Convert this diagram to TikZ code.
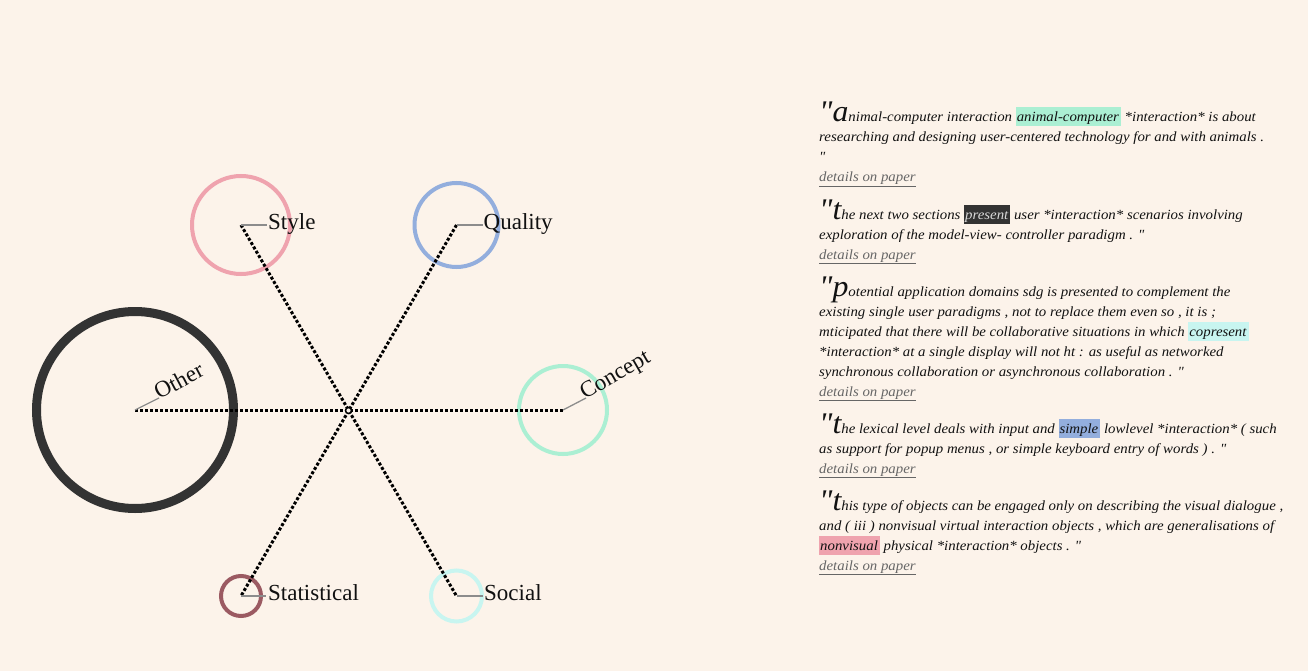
\documentclass[tikz,border=0pt]{standalone}
\usepackage{fontspec}
\setmainfont{Liberation Serif}
\newfontfamily\panelfont[FakeStretch=1.06]{Liberation Serif}
\definecolor{bg}{RGB}{252,243,234}
\definecolor{cother}{RGB}{51,51,51}
\definecolor{cstyle}{RGB}{239,163,174}
\definecolor{cquality}{RGB}{147,174,221}
\definecolor{cconcept}{RGB}{171,239,211}
\definecolor{cstat}{RGB}{155,90,98}
\definecolor{csocial}{RGB}{200,245,240}
\definecolor{leadgray}{RGB}{140,140,140}
\definecolor{linkgray}{RGB}{102,102,102}
\definecolor{ink}{RGB}{17,17,17}
\newcommand\hlbox[2]{{\setlength{\fboxsep}{0pt}\colorbox{#1}{\rule[-4.5pt]{0pt}{19pt}\kern1pt#2\kern2pt}}}
\newcommand\bigini[1]{{\fontsize{30}{20}\selectfont"#1}}
\newcommand\dlink{\textcolor{linkgray}{\underline{details on paper}}}
\begin{document}
\begin{tikzpicture}[x=1pt,y=-1pt,
  ring/.style={circle, draw, inner sep=0pt, fill=none},
  spoke/.style={line width=3pt, dash pattern=on 3pt off 2pt, black},
  leader/.style={draw=leadgray, line width=1.3pt},
  lbl/.style={font=\fontsize{23}{23}\selectfont, anchor=base west, inner sep=0pt, text=ink},
  qline/.style={anchor=base west, inner sep=0pt, text=ink, font=\panelfont\itshape\fontsize{14}{20}\selectfont}]
\fill[bg] (0,0) rectangle (1308,671);
\useasboundingbox (0,0) rectangle (1308,671);
% rings
\node[ring, draw=cother, line width=9pt, minimum size=197pt] (other) at (135,410) {};
\node[ring, draw=cstyle, line width=4pt, minimum size=98pt] (style) at (241,225) {};
\node[ring, draw=cquality, line width=4pt, minimum size=84pt] (quality) at (456.5,225) {};
\node[ring, draw=cconcept, line width=4pt, minimum size=88pt] (concept) at (563,410) {};
\node[ring, draw=cstat, line width=4pt, minimum size=40pt] (statistical) at (241,596) {};
\node[ring, draw=csocial, line width=4pt, minimum size=51pt] (social) at (456.5,596) {};
% spokes
\draw[spoke] (other.center) -- (concept.center);
\draw[spoke] (style.center) -- (social.center);
\draw[spoke] (quality.center) -- (statistical.center);
\node[circle, draw=black, line width=1.5pt, fill=bg, minimum size=6pt, inner sep=0pt] (hub) at (348.5,410.5) {};
% leaders
\coordinate (otherE) at (159,398);
\coordinate (styleE) at (267,225);
\coordinate (qualityE) at (483,225);
\coordinate (conceptE) at (586,398);
\coordinate (statE) at (266,596);
\coordinate (socialE) at (483,596);
\draw[leader] (other.center) -- (otherE);
\draw[leader] (style.center) -- (styleE);
\draw[leader] (quality.center) -- (qualityE);
\draw[leader] (concept.center) -- (conceptE);
\draw[leader] (statistical.center) -- (statE);
\draw[leader] (social.center) -- (socialE);
% labels
\node[lbl, rotate=28] (otherL) at (159,400) {Other};
\node[lbl] (styleL) at (268,229.5) {Style};
\node[lbl] (qualityL) at (483.5,229.5) {Quality};
\node[lbl, rotate=30] (conceptL) at (585,400) {Concept};
\node[lbl] (statL) at (268,600) {Statistical};
\node[lbl] (socialL) at (484,600) {Social};
% quotes panel
\node[qline] (q1a) at (819,122) {\bigini{a}nimal-computer interaction \hlbox{cconcept}{animal-computer} *interaction* is about};
\node[qline] (q1b) at (819,142) {researching and designing user-centered technology for and with animals .};
\node[qline] (q1c) at (819,162) {"};
\node[qline] (q1d) at (819,182) {\dlink};
\node[qline] (q2a) at (819,219) {\bigini{t}he next two sections \hlbox{cother}{\textcolor{white!85!black}{present}} user *interaction* scenarios involving};
\node[qline] (q2b) at (819,239) {exploration of the model-view- controller paradigm . "};
\node[qline] (q2c) at (819,259) {\dlink};
\node[qline] (q3a) at (819,296) {\bigini{p}otential application domains sdg is presented to complement the};
\node[qline] (q3b) at (819,316) {existing single user paradigms , not to replace them even so , it is ;};
\node[qline] (q3c) at (819,336) {mticipated that there will be collaborative situations in which \hlbox{csocial}{copresent}};
\node[qline] (q3d) at (819,356) {*interaction* at a single display will not ht : as useful as networked};
\node[qline] (q3e) at (819,376) {synchronous collaboration or asynchronous collaboration . "};
\node[qline] (q3f) at (819,396) {\dlink};
\node[qline] (q4a) at (819,433) {\bigini{t}he lexical level deals with input and \hlbox{cquality}{simple} lowlevel *interaction* ( such};
\node[qline] (q4b) at (819,453) {as support for popup menus , or simple keyboard entry of words ) . "};
\node[qline] (q4c) at (819,473) {\dlink};
\node[qline] (q5a) at (819,510) {\bigini{t}his type of objects can be engaged only on describing the visual dialogue ,};
\node[qline] (q5b) at (819,530) {and ( iii ) nonvisual virtual interaction objects , which are generalisations of};
\node[qline] (q5c) at (819,550) {\hlbox{cstyle}{nonvisual} physical *interaction* objects . "};
\node[qline] (q5d) at (819,570) {\dlink};
\end{tikzpicture}
\end{document}
